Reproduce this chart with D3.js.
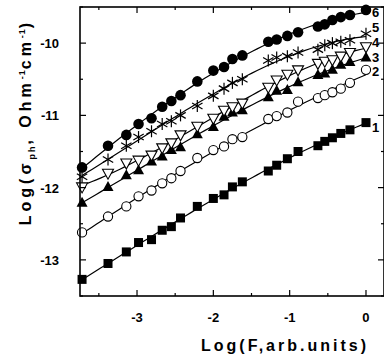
<!DOCTYPE html>
<html>
<head>
<meta charset="utf-8">
<script src="https://cdn.jsdelivr.net/npm/d3@7"></script>
<style>
  html, body { margin: 0; padding: 0; background: #fff; }
  svg text { font-family: "Liberation Sans", Arial, sans-serif; font-weight: bold; fill: #000; }
</style>
</head>
<body>
<div id="chart"></div>
<script>
// log of the light flux, shared by all curves
const logF = [-3.72, -3.38, -3.14, -2.98, -2.81, -2.67, -2.55, -2.43, -2.21, -2.00, -1.86, -1.75,
  -1.62, -1.28, -1.17, -1.03, -0.89, -0.63, -0.54, -0.44, -0.33, -0.21, 0.00];

// log of photoconductivity, curves 1..6
const s1 = [-13.27, -13.05, -12.89, -12.76, -12.72, -12.59, -12.54, -12.42, -12.26, -12.15, -12.10, -11.99,
  -11.92, -11.77, -11.69, -11.60, -11.50, -11.42, -11.36, -11.31, -11.25, -11.20, -11.10];
const s2 = [-12.62, -12.40, -12.26, -12.12, -12.04, -11.94, -11.87, -11.77, -11.59, -11.48, -11.43, -11.33,
  -11.30, -11.05, -11.01, -10.96, -10.81, -10.76, -10.72, -10.68, -10.63, -10.55, -10.37];
const s3 = [-12.21, -11.99, -11.83, -11.76, -11.64, -11.57, -11.48, -11.44, -11.26, -11.16, -11.02, -10.96,
  -10.93, -10.75, -10.66, -10.65, -10.54, -10.44, -10.42, -10.37, -10.30, -10.26, -10.20];
const s4 = [-11.99, -11.80, -11.66, -11.62, -11.55, -11.45, -11.38, -11.27, -11.15, -11.04, -10.93, -10.88,
  -10.83, -10.61, -10.51, -10.43, -10.37, -10.28, -10.25, -10.23, -10.18, -10.13, -10.05];
const s5 = [-11.85, -11.61, -11.42, -11.30, -11.22, -11.12, -11.08, -11.00, -10.87, -10.73, -10.63, -10.55,
  -10.50, -10.24, -10.20, -10.18, -10.13, -10.09, -10.03, -10.00, -9.98, -9.96, -9.87];
const s6 = [-11.72, -11.42, -11.27, -11.12, -11.04, -10.88, -10.80, -10.72, -10.53, -10.38, -10.33, -10.22,
  -10.17, -9.98, -9.95, -9.90, -9.85, -9.77, -9.74, -9.68, -9.64, -9.61, -9.54];

const seriesNames = ["1", "2", "3", "4", "5", "6"];
const seriesValues = [s1, s2, s3, s4, s5, s6];
const seriesMarks = ["square", "openCircle", "triangleUp", "openTriangleDown", "asterisk", "circle"];

const xTicks = [-3, -2, -1, 0];
const xMinor = [-3.5, -2.5, -1.5, -0.5];
const yTicks = [-10, -11, -12, -13];
const yMinor = [-9.5, -10.5, -11.5, -12.5, -13.5];

const W = 384, H = 360;
const mLeft = 80, mTop = 7, mRight = 384, mBottom = 296;

const x = d3.scaleLinear().domain([-3.747, 0.236]).range([mLeft, mRight]);
const y = d3.scaleLinear().domain([-13.5, -9.5]).range([mBottom, mTop]);

const svg = d3.select("#chart").append("svg").attr("width", W).attr("height", H);

// least squares polynomial fit, used for the smooth lines
function polyfit(xs, ys, deg) {
  const n = deg + 1;
  const A = [];
  for (let i = 0; i < n; i++) {
    A.push(new Array(n + 1).fill(0));
  }
  xs.forEach((xv, k) => {
    for (let i = 0; i < n; i++) {
      for (let j = 0; j < n; j++) A[i][j] += Math.pow(xv, i + j);
      A[i][n] += ys[k] * Math.pow(xv, i);
    }
  });
  for (let c = 0; c < n; c++) {
    let p = c;
    for (let r = c + 1; r < n; r++) if (Math.abs(A[r][c]) > Math.abs(A[p][c])) p = r;
    [A[c], A[p]] = [A[p], A[c]];
    for (let r = 0; r < n; r++) {
      if (r === c) continue;
      const f = A[r][c] / A[c][c];
      for (let k = c; k <= n; k++) A[r][k] -= f * A[c][k];
    }
  }
  return A.map((row, i) => row[n] / row[i]);
}

// fitted lines
const line = d3.line().x(d => x(d[0])).y(d => y(d[1]));
seriesValues.forEach(vals => {
  const coef = polyfit(logF, vals, 3);
  const x0 = d3.min(logF), x1 = d3.max(logF);
  const pts = d3.range(0, 61).map(i => {
    const xv = x0 + (x1 - x0) * i / 60;
    return [xv, coef.reduce((s, c, k) => s + c * Math.pow(xv, k), 0)];
  });
  svg.append("path").attr("d", line(pts)).attr("fill", "none")
    .attr("stroke", "#000").attr("stroke-width", 1.2);
});

// markers
function drawMark(g, kind, cx, cy) {
  if (kind === "square") {
    g.append("rect").attr("x", cx - 4.5).attr("y", cy - 4.5).attr("width", 9).attr("height", 9).attr("fill", "#000");
  } else if (kind === "circle") {
    g.append("circle").attr("cx", cx).attr("cy", cy).attr("r", 5.3).attr("fill", "#000");
  } else if (kind === "openCircle") {
    g.append("circle").attr("cx", cx).attr("cy", cy).attr("r", 4.6).attr("fill", "#fff")
      .attr("stroke", "#000").attr("stroke-width", 1.1);
  } else if (kind === "triangleUp") {
    g.append("path").attr("d", `M${cx},${cy - 6}L${cx + 5.5},${cy + 4}L${cx - 5.5},${cy + 4}Z`).attr("fill", "#000");
  } else if (kind === "openTriangleDown") {
    g.append("path").attr("d", `M${cx - 5.5},${cy - 4}L${cx + 5.5},${cy - 4}L${cx},${cy + 6}Z`)
      .attr("fill", "#fff").attr("stroke", "#000").attr("stroke-width", 1.1);
  } else if (kind === "asterisk") {
    const r = 6;
    [90, 30, 150].forEach(a => {
      const dx = r * Math.cos(a * Math.PI / 180), dy = r * Math.sin(a * Math.PI / 180);
      g.append("line").attr("x1", cx - dx).attr("y1", cy - dy).attr("x2", cx + dx).attr("y2", cy + dy)
        .attr("stroke", "#000").attr("stroke-width", 1.2);
    });
  }
}

seriesValues.forEach((vals, si) => {
  const g = svg.append("g");
  vals.forEach((v, i) => drawMark(g, seriesMarks[si], x(logF[i]), y(v)));
});

// curve numbers at the right end
const labelDy = [9, 6, 4.5, 0, -1.5, 7.2];
seriesValues.forEach((vals, si) => {
  svg.append("text").attr("x", x(0) + 6).attr("y", y(vals[vals.length - 1]) + labelDy[si])
    .attr("font-size", 13).text(seriesNames[si]);
});

// frame and ticks (ticks point inward on all sides)
const frame = svg.append("g").attr("stroke", "#000").attr("fill", "none");
frame.append("rect").attr("x", mLeft).attr("y", mTop).attr("width", mRight - mLeft).attr("height", mBottom - mTop)
  .attr("stroke-width", 1.6);

function ticksX(vals, len) {
  vals.forEach(v => {
    frame.append("line").attr("x1", x(v)).attr("x2", x(v)).attr("y1", mBottom).attr("y2", mBottom - len).attr("stroke-width", 1.2);
    frame.append("line").attr("x1", x(v)).attr("x2", x(v)).attr("y1", mTop).attr("y2", mTop + len).attr("stroke-width", 1.2);
  });
}
function ticksY(vals, len) {
  vals.forEach(v => {
    frame.append("line").attr("x1", mLeft).attr("x2", mLeft + len).attr("y1", y(v)).attr("y2", y(v)).attr("stroke-width", 1.2);
    frame.append("line").attr("x1", mRight).attr("x2", mRight - len).attr("y1", y(v)).attr("y2", y(v)).attr("stroke-width", 1.2);
  });
}
ticksX(xTicks, 6);
ticksX(xMinor, 3);
ticksY(yTicks, 6);
ticksY(yMinor, 3);

// tick labels
xTicks.forEach(v => {
  svg.append("text").attr("x", x(v)).attr("y", 322).attr("text-anchor", "middle")
    .attr("font-size", 13).text(d3.format("d")(v).replace("\u2212", "-"));
});
yTicks.forEach(v => {
  svg.append("text").attr("x", 59).attr("y", y(v) + 5).attr("text-anchor", "end")
    .attr("font-size", 13).text(d3.format("d")(v).replace("\u2212", "-"));
});

// axis titles
svg.append("text").attr("x", 285).attr("y", 351).attr("text-anchor", "middle")
  .attr("font-size", 16).attr("letter-spacing", 3).text("Log(F,arb.units)");

const yt = svg.append("text").attr("transform", "translate(31,122) rotate(-90)")
  .attr("text-anchor", "middle").attr("font-size", 16).attr("letter-spacing", 4);
yt.append("tspan").text("Log(σ");
yt.append("tspan").attr("font-size", 9).attr("dy", 4).attr("letter-spacing", 2).text("ph");
yt.append("tspan").attr("dy", -4).text(", Ohm");
yt.append("tspan").attr("font-size", 9).attr("dy", -6).attr("letter-spacing", 1).text("-1");
yt.append("tspan").attr("dy", 6).text("cm");
yt.append("tspan").attr("font-size", 9).attr("dy", -6).attr("letter-spacing", 1).text("-1");
yt.append("tspan").attr("dy", 6).text(")");
</script>
</body>
</html>
